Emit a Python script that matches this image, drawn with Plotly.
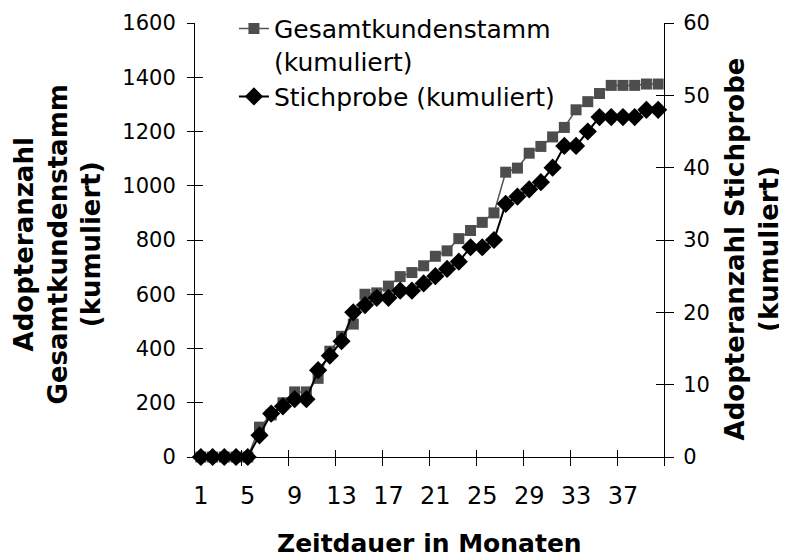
import plotly.graph_objects as go

# Monate 1..40
monate = list(range(1, 41))

gesamt = [0, 0, 0, 0, 0, 110, 155, 200, 240, 240,
          290, 390, 445, 490, 600, 605, 630, 665, 680, 705,
          740, 760, 805, 835, 865, 900, 1050, 1065, 1120, 1145,
          1180, 1215, 1280, 1310, 1340, 1370, 1370, 1370, 1375, 1375]

stichprobe = [0, 0, 0, 0, 0, 3, 6, 7, 8, 8,
              12, 14, 16, 20, 21, 22, 22, 23, 23, 24,
              25, 26, 27, 29, 29, 30, 35, 36, 37, 38,
              40, 43, 43, 45, 47, 47, 47, 47, 48, 48]

x_labels = [1, 5, 9, 13, 17, 21, 25, 29, 33, 37]
x_ticks = [4.5, 8.5, 12.5, 16.5, 20.5, 24.5, 28.5, 32.5, 36.5, 40.5]

FONT = "DejaVu Sans"

fig = go.Figure()
fig.add_trace(go.Scatter(
    x=monate, y=gesamt, name="Gesamtkundenstamm<br>(kumuliert)",
    mode="lines+markers", cliponaxis=False,
    line=dict(color="#555555", width=1.5),
    marker=dict(symbol="square", size=11, color="#4d4d4d"),
))
fig.add_trace(go.Scatter(
    x=monate, y=stichprobe, name="Stichprobe (kumuliert)", yaxis="y2",
    mode="lines+markers", cliponaxis=False,
    line=dict(color="black", width=2),
    marker=dict(symbol="diamond", size=14, color="black"),
))

# empty traces so the helper axes (labels / crossing ticks) get drawn
for xa, ya in [("x2", "y"), ("x3", "y"), ("x", "y3"), ("x", "y4")]:
    fig.add_trace(go.Scatter(x=[], y=[], xaxis=xa, yaxis=ya,
                             showlegend=False, hoverinfo="skip"))

common = dict(showgrid=False, zeroline=False, tickcolor="black", linecolor="black")

# page body has an 8px margin, so the plot area is placed 8px up/left
fig.update_layout(
    width=787, height=557,
    margin=dict(l=187, r=131, t=15, b=108, autoexpand=False),
    plot_bgcolor="white", paper_bgcolor="white",
    font=dict(family=FONT, size=21, color="black"),
    showlegend=True,
    legend=dict(x=0.083, y=1.04, xanchor="left", yanchor="top",
                bgcolor="rgba(0,0,0,0)", font=dict(family=FONT, size=25),
                valign="top", tracegroupgap=4),
    xaxis=dict(range=[0.5, 40.5], tickvals=x_ticks, ticks="outside", ticklen=8,
               showticklabels=False, showline=True, **common),
    xaxis2=dict(range=[0.5, 40.5], overlaying="x", anchor="y", side="bottom",
                tickvals=x_labels, ticktext=[str(v) for v in x_labels], ticks="",
                tickfont=dict(size=24), ticklabelstandoff=22, showline=False, **common),
    xaxis3=dict(range=[0.5, 40.5], overlaying="x", anchor="y", side="bottom",
                tickvals=x_ticks, ticks="inside", ticklen=7,
                showticklabels=False, showline=False, **common),
    yaxis=dict(range=[0, 1600], dtick=200, ticks="outside", ticklen=7,
               ticklabelstandoff=7, showline=True, **common),
    yaxis3=dict(range=[0, 1600], dtick=200, overlaying="y", anchor="x", side="left",
                ticks="inside", ticklen=8, showticklabels=False, showline=False, **common),
    yaxis2=dict(range=[0, 60], dtick=10, overlaying="y", anchor="x", side="right",
                ticks="outside", ticklen=9, ticklabelstandoff=5, showline=True, **common),
    yaxis4=dict(range=[0, 60], dtick=10, overlaying="y", anchor="x", side="right",
                ticks="inside", ticklen=8, showticklabels=False, showline=False, **common),
)

title_font = dict(family=FONT, size=25, color="black", weight="bold")
fig.add_annotation(text="Adopteranzahl<br>Gesamtkundenstamm<br>(kumuliert)",
                   xref="paper", yref="paper", x=-0.292, y=0.49, textangle=-90,
                   xanchor="center", yanchor="middle", showarrow=False,
                   font=dict(title_font, size=26))
fig.add_annotation(text="Adopteranzahl Stichprobe<br>(kumuliert)",
                   xref="paper", yref="paper", x=1.187, y=0.48, textangle=-90,
                   xanchor="center", yanchor="middle", showarrow=False,
                   font=dict(title_font, size=26))
fig.add_annotation(text="Zeitdauer in Monaten",
                   xref="paper", yref="paper", x=0.5, y=-0.2,
                   xanchor="center", yanchor="middle", showarrow=False,
                   font=title_font)

fig.write_html("out.html")
